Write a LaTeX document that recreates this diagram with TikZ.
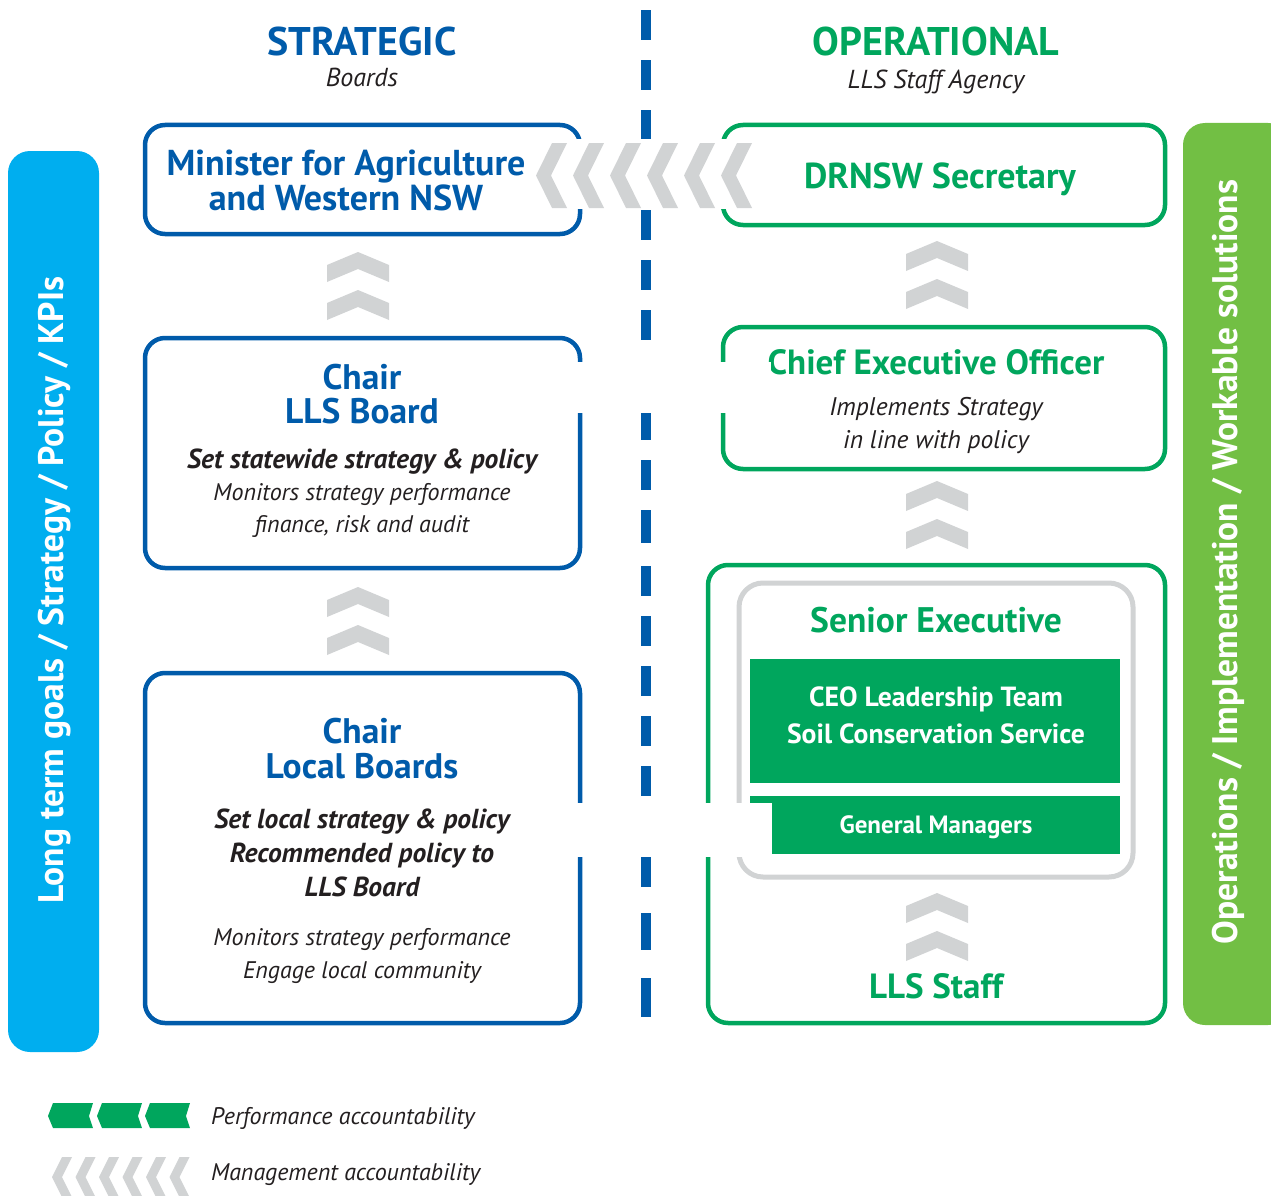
\documentclass[tikz,border=0pt]{standalone}
\usepackage{fontspec}
\setmainfont{PT Sans}
\definecolor{lblue}{HTML}{005BAA}
\definecolor{lgreen}{HTML}{00A65D}
\definecolor{cyanband}{HTML}{00AEEF}
\definecolor{limeband}{HTML}{72BF44}
\definecolor{chev}{HTML}{D1D3D4}
\definecolor{ink}{HTML}{231F20}
\newcommand\fs[1]{\fontsize{#1}{#1}\selectfont}
% up chevron: centre x, top y
\newcommand\upchev[2]{\fill[chev] (#1,#2) -- (#1+31,#2+13) -- (#1+31,#2+30) -- (#1,#2+17) -- (#1-31,#2+30) -- (#1-31,#2+13) -- cycle;}
% left chevron: tip x, top y, bottom y, slant, thickness
\newcommand\lchev[5]{\fill[chev] (#1,{(#2+#3)/2}) -- (#1+#4,#2) -- (#1+#4+#5,#2) -- (#1+#5,{(#2+#3)/2}) -- (#1+#4+#5,#3) -- (#1+#4,#3) -- cycle;}
\newcommand\gchev[1]{\fill[lgreen] (#1,1116) -- (#1+5,1103) -- (#1+45,1103) -- (#1+41,1116) -- (#1+45,1128) -- (#1+5,1128) -- cycle;}
\begin{document}
\begin{tikzpicture}[x=1pt,y=-1pt,
  bluebox/.style={draw=lblue, line width=4.5pt, rounded corners=20pt, inner sep=0pt},
  greenbox/.style={draw=lgreen, line width=4.5pt, rounded corners=20pt, inner sep=0pt},
  graybox/.style={draw=chev, line width=5pt, rounded corners=24pt, inner sep=0pt},
  fillbar/.style={fill=lgreen, inner sep=0pt},
  txt/.style={anchor=base, inner sep=0pt, align=center},
  head/.style={txt, font=\fs{40}\bfseries},
  sub/.style={txt, font=\fs{26}\itshape, text=ink},
  btitle/.style={txt, font=\fs{35.5}\bfseries, text=lblue},
  gtitle/.style={txt, font=\fs{35.5}\bfseries, text=lgreen},
  bital/.style={txt, font=\fs{27.5}\bfseries\itshape, text=ink},
  ital/.style={txt, font=\fs{24}\itshape, text=ink},
  wbar/.style={txt, font=\fs{27.7}\bfseries, text=white},
  band/.style={rounded corners=22pt, inner sep=0pt},
  bandtxt/.style={rotate=90, text=white, font=\fs{35.5}\bfseries, inner sep=0pt}
]
\useasboundingbox (0,0) rectangle (1271,1196);
\clip (0,0) rectangle (1271,1196);

% side bands
\node[band, fill=cyanband, minimum width=91, minimum height=901] (lband) at (53.5,601.5) {};
\node[bandtxt] (ltext) at (55,590) {Long term goals / Strategy / Policy / KPIs};
\node[band, fill=limeband, minimum width=107, minimum height=902] (rband) at (1236.5,574) {};
\node[bandtxt] (rtext) at (1228,562) {Operations / Implementation / Workable solutions};

% headings
\node[head, text=lblue] (strat) at (362,56) {STRATEGIC};
\node[sub] (boards) at (362,87) {Boards};
\node[head, text=lgreen] (oper) at (936,56) {OPERATIONAL};
\node[sub] (agency) at (936,89) {LLS Staff Agency};

% dashed divider
\foreach \a/\b in {10/40,60/90,110/140,210/240,260/290,310/340,410/440,460/490,510/543,566/596,616/646,666/696,716/746,766/796,857/887,913/950,978/1017}
  \fill[lblue] (641,\a) rectangle (651,\b);

% strategic boxes
\node[bluebox, minimum width=435, minimum height=109] (minister) at (362.5,179.5) {};
\node[btitle, font=\fs{36}\bfseries] (min1) at (346,175) {Minister for Agriculture};
\node[btitle, font=\fs{36}\bfseries] (min2) at (346,210) {and Western NSW};

\node[bluebox, minimum width=435, minimum height=230] (llsboard) at (362.5,453) {};
\node[btitle] (c1) at (362,389) {Chair};
\node[btitle] (c2) at (362,423) {LLS Board};
\node[bital] (c3) at (362,468) {Set statewide strategy \& policy};
\node[ital] (c4) at (362,500) {Monitors strategy performance};
\node[ital] (c5) at (362,532) {finance, risk and audit};

\node[bluebox, minimum width=435, minimum height=350] (localb) at (362.5,848) {};
\node[btitle] (d1) at (362,743) {Chair};
\node[btitle] (d2) at (362,778) {Local Boards};
\node[bital] (d3) at (362,828) {Set local strategy \& policy};
\node[bital] (d4) at (362,862) {Recommended policy to};
\node[bital] (d5) at (362,896) {LLS Board};
\node[ital] (d6) at (362,945) {Monitors strategy performance};
\node[ital] (d7) at (362,978) {Engage local community};

% operational boxes
\node[greenbox, minimum width=442, minimum height=100] (drnsw) at (944,175) {};
\node[gtitle, font=\fs{36}\bfseries] (e1) at (940,188) {DRNSW Secretary};

\node[greenbox, minimum width=442, minimum height=142] (ceo) at (944,398) {};
\node[gtitle, font=\fs{35}\bfseries] (f1) at (936,374) {Chief Executive Officer};
\node[ital, font=\fs{25.5}\itshape] (f2) at (936,415) {Implements Strategy};
\node[ital, font=\fs{25.5}\itshape] (f3) at (936,448) {in line with policy};

\node[greenbox, minimum width=457, minimum height=458] (senior) at (936.5,794) {};
\node[graybox, minimum width=394, minimum height=294] (sengray) at (936,730) {};
\node[gtitle] (g1) at (936,632) {Senior Executive};
\node[fillbar, minimum width=370, minimum height=124] (ceolt) at (935,721) {};
\node[wbar] (g2) at (936,706) {CEO Leadership Team};
\node[wbar] (g3) at (936,743) {Soil Conservation Service};
\node[fillbar, minimum width=370, minimum height=58] (gm) at (935,825) {};
\node[wbar, font=\fs{25}\bfseries] (g4) at (936,833) {General Managers};
\node[gtitle, font=\fs{35}\bfseries] (g5) at (936,998) {LLS Staff};

% white masks (gaps)
\fill[white] (570,139) rectangle (735,209);
\fill[white] (570,362) rectangle (771,413);
\fill[white] (570,803) rectangle (772,857);

% management chevrons
\foreach \t in {536,573,610,647,684,721} { \lchev{\t}{143}{208}{16}{15} }
\upchev{358}{252}\upchev{358}{290}
\upchev{358}{587}\upchev{358}{625}
\upchev{937}{241}\upchev{937}{279}
\upchev{937}{481}\upchev{937}{519}
\upchev{937}{893}\upchev{937}{931}

% legend
\gchev{48}\gchev{97}\gchev{145}
\node[ital, anchor=base west] (leg1) at (211,1124) {Performance accountability};
\foreach \t in {52,75.5,99,122.5,146,169.5} { \lchev{\t}{1157}{1197}{10}{10} }
\node[ital, anchor=base west] (leg2) at (211,1180) {Management accountability};
\end{tikzpicture}
\end{document}
